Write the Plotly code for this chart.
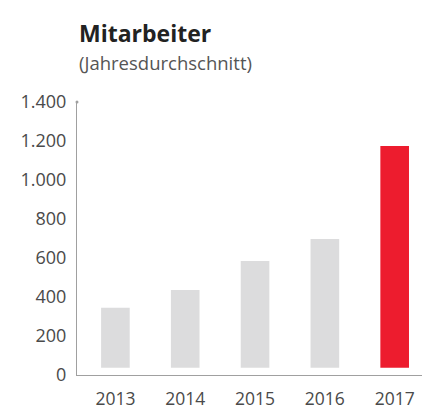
import plotly.graph_objects as go

years = ["2013", "2014", "2015", "2016", "2017"]
employees = [345, 436, 585, 697, 1174]
bar_colors = ["#dcdcdd", "#dcdcdd", "#dcdcdd", "#dcdcdd", "#ed1c2e"]
y_ticks = [0, 200, 400, 600, 800, 1000, 1200, 1400]

BASE = 37  # bars float slightly above the axis in the original

W, H = 430, 417
ML, MR, MT, MB = 63, 14, 94, 50

fig = go.Figure(go.Bar(
    x=years,
    y=[v - BASE for v in employees],
    base=BASE,
    marker=dict(color=bar_colors, line=dict(width=0)),
    width=0.41,
    hoverinfo="skip",
))

FONT = "Open Sans"
TICK_COLOR = "#4a4a4a"
fig.update_layout(
    width=W, height=H,
    margin=dict(l=ML, r=MR, t=MT, b=MB),
    paper_bgcolor="white", plot_bgcolor="white",
    separators=",.",
    showlegend=False,
    font=dict(family=FONT, size=18, color=TICK_COLOR),
    xaxis=dict(
        type="category", range=[-0.55, 4.42],
        showline=True, linecolor="#a0a0a0", linewidth=1,
        ticks="", showgrid=False, zeroline=False,
        ticklabelstandoff=8,
        tickfont=dict(family=FONT, size=17.5, color=TICK_COLOR),
    ),
    yaxis=dict(
        range=[0, 1400], tickvals=y_ticks, tickformat=",d",
        showline=True, linecolor="#a0a0a0", linewidth=1,
        ticks="", showgrid=False, zeroline=False,
        ticklabelstandoff=6,
        tickfont=dict(family=FONT, size=18, color=TICK_COLOR),
    ),
)

pw, ph = W - ML - MR, H - MT - MB
def px(x):
    return (x - ML) / pw
def py(y):
    return (H - MB - y) / ph

fig.add_annotation(text="<b>Mitarbeiter</b>", x=px(63), y=py(25), xref="paper", yref="paper",
                   xanchor="left", yanchor="middle", showarrow=False,
                   font=dict(family=FONT, size=23, color="#222222"))
fig.add_annotation(text="(Jahresdurchschnitt)", x=px(63), y=py(54), xref="paper", yref="paper",
                   xanchor="left", yanchor="middle", showarrow=False,
                   font=dict(family=FONT, size=18.5, color="#555555"))

# small end dots on the axis lines
for (cx, cy) in [(0, 1), (1, 0)]:
    fig.add_shape(type="circle", xref="paper", yref="paper",
                  x0=cx - 1.5 / pw, x1=cx + 1.5 / pw, y0=cy - 1.5 / ph, y1=cy + 1.5 / ph,
                  fillcolor="#a0a0a0", line=dict(width=0))

fig.write_html("out.html")
